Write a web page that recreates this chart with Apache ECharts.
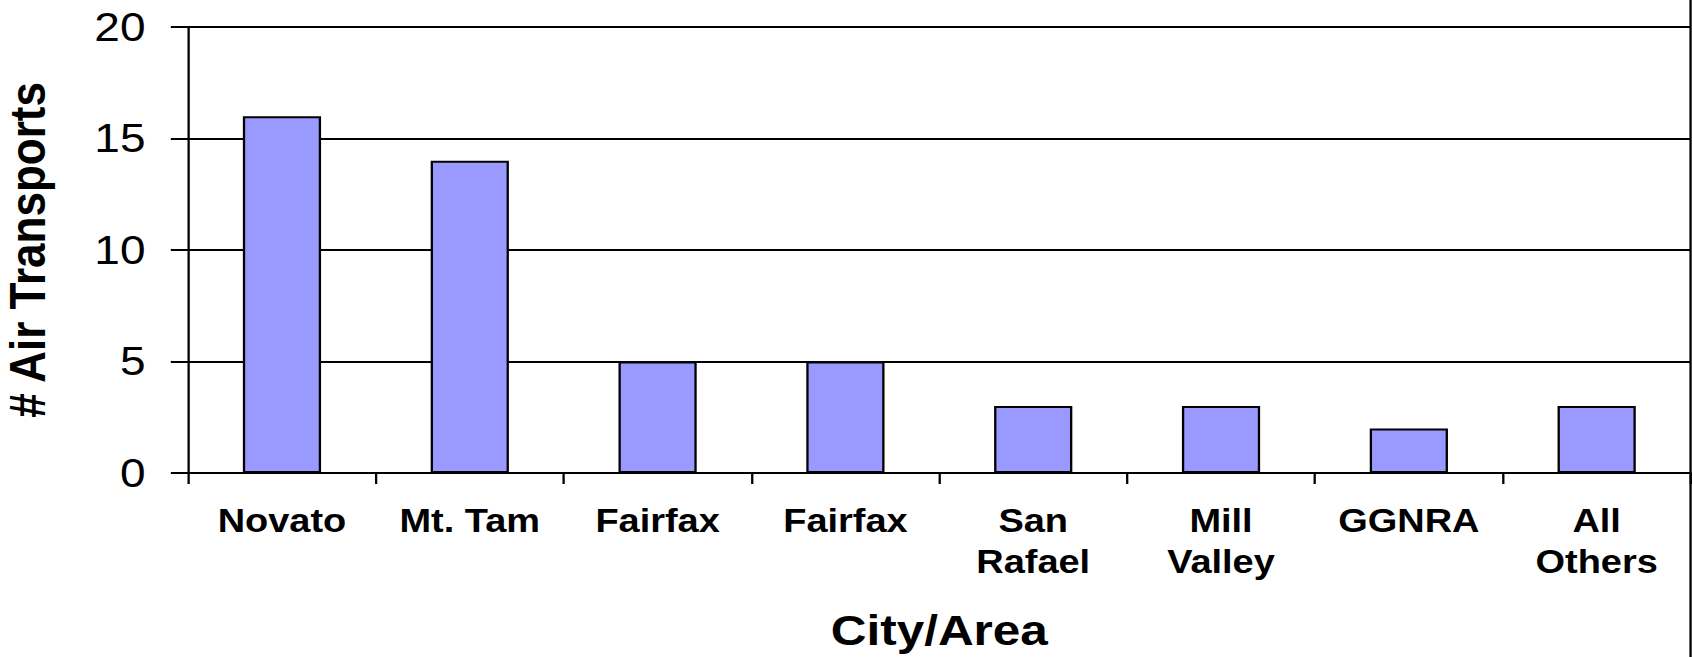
<!DOCTYPE html>
<html>
<head>
<meta charset="utf-8">
<script src="https://cdn.jsdelivr.net/npm/echarts@6/dist/echarts.min.js"></script>
<style>
  html, body { margin: 0; padding: 0; background: #fff; overflow: hidden; }
  /* the source picture is stretched sideways, so the chart is drawn narrower and widened */
  #chart { width: 1471px; height: 657px; transform: scaleX(1.1502); transform-origin: 0 0; }
</style>
</head>
<body>
<div id="chart"></div>
<script>
// categories and counts
var cities = ['Novato', 'Mt. Tam', 'Fairfax', 'Fairfax', 'San\nRafael', 'Mill\nValley', 'GGNRA', 'All\nOthers'];
var transports = [16, 14, 5, 5, 3, 3, 2, 3];
var yTicks = [0, 5, 10, 15, 20];

var font = 'Arial, "Liberation Sans", sans-serif';

var chart = echarts.init(document.getElementById('chart'), null, { renderer: 'svg' });
chart.setOption({
    animation: false,
    backgroundColor: '#fff',
    grid: { left: 163.5, right: 1.2, top: 27, bottom: 184, containLabel: false, outerBoundsMode: 'none' },
    xAxis: {
        type: 'category',
        data: cities,
        name: 'City/Area',
        nameLocation: 'middle',
        nameGap: 137,
        nameTextStyle: { fontFamily: font, fontWeight: 'bold', fontSize: 43, lineHeight: 40, color: '#000' },
        axisLine: { lineStyle: { color: '#000', width: 2 } },
        axisTick: { show: true, length: 11, lineStyle: { color: '#000', width: 2 } },
        axisLabel: {
            interval: 0, margin: 27, color: '#000',
            fontFamily: font, fontWeight: 'bold', fontSize: 33, lineHeight: 41
        }
    },
    yAxis: {
        type: 'value',
        min: yTicks[0],
        max: yTicks[yTicks.length - 1],
        interval: 5,
        name: '# Air Transports',
        nameLocation: 'middle',
        nameGap: 118,
        nameTextStyle: { fontFamily: font, fontWeight: 'bold', fontSize: 44, color: '#000' },
        axisLine: { show: true, lineStyle: { color: '#000', width: 2 } },
        axisTick: { show: true, length: 15, lineStyle: { color: '#000', width: 2 } },
        axisLabel: { margin: 37, color: '#000', fontFamily: font, fontSize: 40 },
        splitLine: { show: true, lineStyle: { color: '#000', width: 2 } }
    },
    series: [{
        type: 'bar',
        data: transports,
        barWidth: 68,
        itemStyle: { color: '#9999FF', borderColor: '#000', borderWidth: 2 }
    }],
    graphic: [{
        type: 'line',
        shape: { x1: 1469.8, y1: 0, x2: 1469.8, y2: 657 },
        style: { stroke: '#000', lineWidth: 2 }
    }]
});
</script>
</body>
</html>
